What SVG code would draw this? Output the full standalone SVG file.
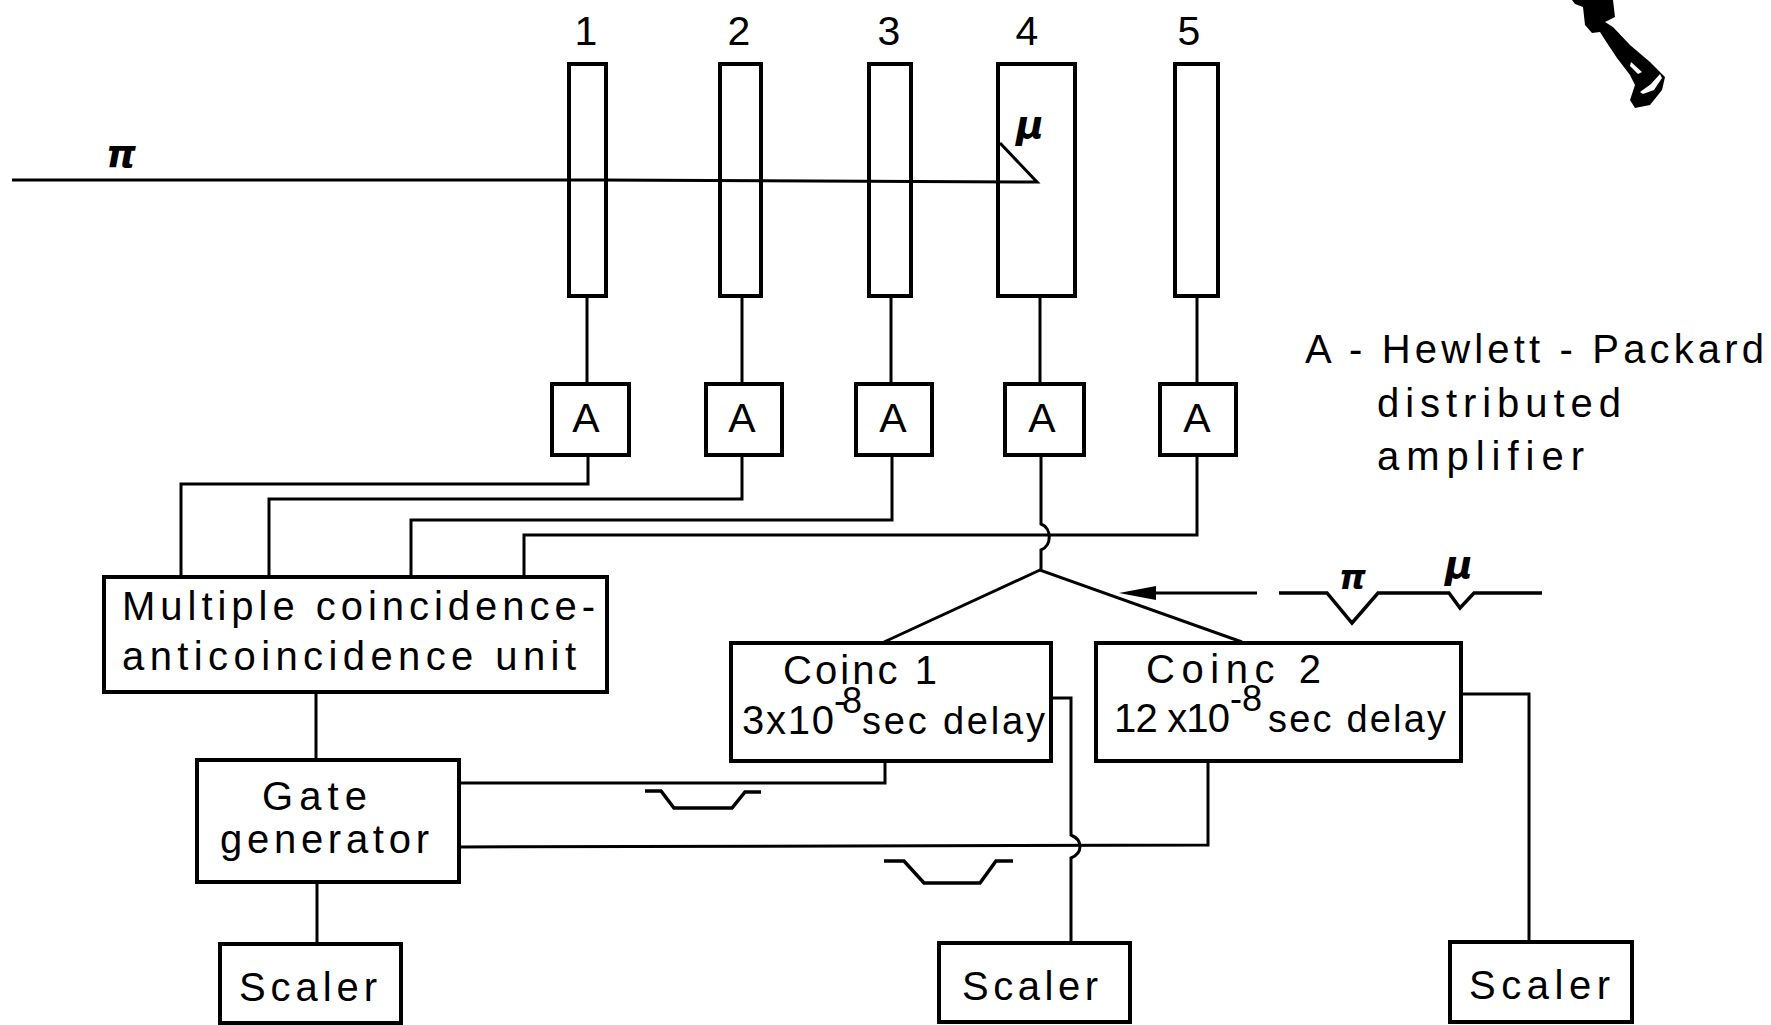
<svg xmlns="http://www.w3.org/2000/svg" width="1771" height="1025" viewBox="0 0 1771 1025">
<style>
.b{fill:#fff;stroke:#000;stroke-width:4}
.t{fill:none;stroke:#000;stroke-width:4}
.w{fill:none;stroke:#000;stroke-width:3;stroke-linejoin:miter}
.p{fill:none;stroke:#000;stroke-width:3.5;stroke-linejoin:miter}
text{font-family:"Liberation Sans",Arial,sans-serif;font-size:40px;fill:#000}
.g{font-family:"DejaVu Sans",sans-serif;font-style:italic;font-weight:bold;font-size:38px}
.n{font-size:41px}
</style>
<rect width="1771" height="1025" fill="#fff"/>
<g id="connectors">
<path class="w" d="M12 180H600L1037 182L1000 143"/>
<path class="w" d="M587 296V384M742 296V384M891 296V384M1040 296V384M1197 296V384"/>
<path class="w" d="M588 455V484H181V577M742 455V499H269V577M892 455V520H411V577"/>
<path class="w" d="M1197 455V535H524V577"/>
<path class="w" d="M1041 455V524C1052 528 1052 546 1041 550V570"/>
<path class="w" d="M884 642L1040 570L1242 642"/>
<path class="w" d="M1257 593H1150"/>
<path d="M1119 593L1156 586V600Z" fill="#000"/>
<path class="p" d="M1279 593H1327L1352 623L1378 593H1449L1460 608L1474 593H1542"/>
<path class="w" d="M316 692V760M317 882V944"/>
<path class="w" d="M885 761V783H459"/>
<path class="w" d="M459 847L1208 845V761"/>
<path class="w" d="M1051 698H1071V835C1083 840 1083 853 1071 858V943"/>
<path class="w" d="M1461 694H1529V942"/>
<path class="p" d="M645 791H661L674 808H732L745 792H761"/>
<path class="p" d="M884 861H904L924 883H980L996 861H1013"/>
</g>
<g id="counter1"><rect class="t" x="569" y="64" width="37" height="232"/><text class="n" x="586" y="45" text-anchor="middle">1</text></g>
<g id="counter2"><rect class="t" x="720" y="64" width="41" height="232"/><text class="n" x="739" y="45" text-anchor="middle">2</text></g>
<g id="counter3"><rect class="t" x="869" y="64" width="42" height="232"/><text class="n" x="889" y="45" text-anchor="middle">3</text></g>
<g id="counter4"><rect class="t" x="998" y="64" width="77" height="232"/><text class="n" x="1027" y="45" text-anchor="middle">4</text></g>
<g id="counter5"><rect class="t" x="1175" y="64" width="43" height="232"/><text class="n" x="1189" y="45" text-anchor="middle">5</text></g>
<g id="amp1"><rect class="b" x="552" y="384" width="77" height="71"/><text class="n" x="586" y="432" text-anchor="middle">A</text></g>
<g id="amp2"><rect class="b" x="706" y="384" width="76" height="71"/><text class="n" x="742" y="432" text-anchor="middle">A</text></g>
<g id="amp3"><rect class="b" x="856" y="384" width="76" height="71"/><text class="n" x="893" y="432" text-anchor="middle">A</text></g>
<g id="amp4"><rect class="b" x="1005" y="384" width="79" height="71"/><text class="n" x="1042" y="432" text-anchor="middle">A</text></g>
<g id="amp5"><rect class="b" x="1160" y="384" width="76" height="71"/><text class="n" x="1197" y="432" text-anchor="middle">A</text></g>
<g id="multi"><rect class="b" x="104" y="577" width="503" height="115"/>
<text x="122" y="620" textLength="473">Multiple coincidence-</text>
<text x="122" y="670" textLength="454">anticoincidence unit</text></g>
<g id="gate"><rect class="b" x="197" y="760" width="262" height="122"/>
<text x="262" y="810" textLength="105">Gate</text>
<text x="220" y="853" textLength="209">generator</text></g>
<g id="coinc1"><rect class="b" x="731" y="643" width="320" height="118"/>
<text x="783" y="684" textLength="154">Coinc 1</text>
<text x="742" y="734"><tspan x="742" textLength="92">3x10</tspan><tspan x="834" y="713" font-size="36" textLength="28">-8</tspan><tspan x="862" y="734" textLength="183" font-size="38">sec delay</tspan></text></g>
<g id="coinc2"><rect class="b" x="1096" y="643" width="365" height="118"/>
<text x="1146" y="683" textLength="175">Coinc 2</text>
<text x="1114" y="732"><tspan x="1114" textLength="116">12 x10</tspan><tspan x="1230" y="711" font-size="36" textLength="32">-8</tspan><tspan x="1268" y="732" textLength="178" font-size="38">sec delay</tspan></text></g>
<g id="scaler1"><rect class="b" x="220" y="944" width="181" height="79"/><text x="239" y="1001" textLength="138">Scaler</text></g>
<g id="scaler2"><rect class="b" x="939" y="943" width="191" height="79"/><text x="962" y="1000" textLength="136">Scaler</text></g>
<g id="scaler3"><rect class="b" x="1450" y="942" width="182" height="80"/><text x="1469" y="999" textLength="141">Scaler</text></g>
<g id="labels">
<text class="g" x="106" y="167">π</text>
<text class="g" x="1016" y="138">μ</text>
<text class="g" x="1339" y="589" style="font-size:34px">π</text>
<text class="g" x="1445" y="578">μ</text>
<text x="1305" y="363" textLength="459">A - Hewlett - Packard</text>
<text x="1377" y="417" textLength="244">distributed</text>
<text x="1377" y="470" textLength="207">amplifier</text>
</g>
<g id="stain">
<path fill="#000" d="M1572 0L1575 4L1583 7L1585 25L1592 33L1600 32L1607 43L1617 58L1630 75L1635 85L1630 100L1635 108L1650 105L1662 90L1665 77L1650 62L1630 45L1613 27L1605 22L1615 17L1613 0Z"/>
<path fill="#fff" d="M1640 92L1651 84L1660 74L1662 78L1654 90L1643 94ZM1631 62L1642 72L1638 74L1630 66Z"/>
</g>
</svg>
